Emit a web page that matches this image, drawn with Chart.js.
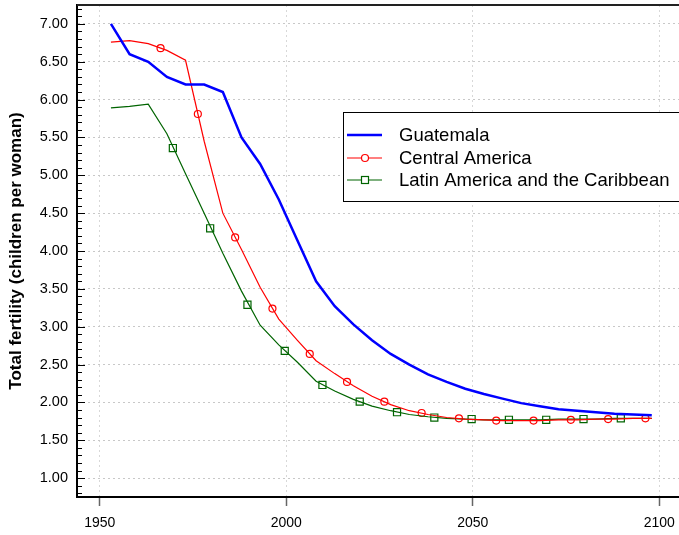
<!DOCTYPE html>
<html>
<head>
<meta charset="utf-8">
<script src="https://cdn.jsdelivr.net/npm/chart.js@4.4.1/dist/chart.umd.min.js"></script>
<style>
  html, body { margin: 0; padding: 0; background: #fff; overflow: hidden; }
  canvas { display: block; }
</style>
</head>
<body>
<canvas id="chart" width="679" height="535"></canvas>
<script>
// Period midpoints (1950-55 ... 2095-2100)
const years = [1953, 1958, 1963, 1968, 1973, 1978, 1983, 1988, 1993, 1998,
  2003, 2008, 2013, 2018, 2023, 2028, 2033, 2038, 2043, 2048,
  2053, 2058, 2063, 2068, 2073, 2078, 2083, 2088, 2093, 2098];

const guatemala = [7.00, 6.60, 6.50, 6.30, 6.20, 6.20, 6.10, 5.50, 5.15, 4.68,
  4.14, 3.60, 3.27, 3.03, 2.82, 2.64, 2.50, 2.37, 2.27, 2.18,
  2.11, 2.05, 1.99, 1.95, 1.91, 1.89, 1.87, 1.85, 1.84, 1.83];

const centralAmerica = [6.76, 6.78, 6.74, 6.65, 6.52, 5.45, 4.50, 4.02, 3.52, 3.10,
  2.82, 2.55, 2.38, 2.22, 2.08, 1.97, 1.89, 1.84, 1.80, 1.78,
  1.77, 1.76, 1.76, 1.76, 1.77, 1.77, 1.78, 1.78, 1.79, 1.79];

const latinAmerica = [5.89, 5.91, 5.94, 5.55, 5.02, 4.50, 3.97, 3.47, 3.02, 2.76,
  2.53, 2.28, 2.15, 2.04, 1.95, 1.89, 1.84, 1.81, 1.79, 1.78,
  1.77, 1.77, 1.77, 1.77, 1.78, 1.78, 1.78, 1.79, 1.79, 1.79];

// marker symbols sit along the lines, not on the data points
const centralMarkYears = [1966.3, 1976.3, 1986.3, 1996.3, 2006.3, 2016.3, 2026.3,
  2036.3, 2046.3, 2056.3, 2066.3, 2076.3, 2086.3, 2096.3];
const centralMarkVals = [6.68, 5.81, 4.18, 3.24, 2.64, 2.27, 2.01,
  1.86, 1.79, 1.76, 1.76, 1.77, 1.78, 1.79];

const latinMarkYears = [1969.6, 1979.6, 1989.6, 1999.6, 2009.7, 2019.7, 2029.7,
  2039.7, 2049.7, 2059.7, 2069.7, 2079.7, 2089.7];
const latinMarkVals = [5.36, 4.30, 3.29, 2.68, 2.23, 2.01, 1.87,
  1.80, 1.78, 1.77, 1.77, 1.78, 1.79];

const xTicks = [1950, 2000, 2050, 2100];
const yTicks = [1.0, 1.5, 2.0, 2.5, 3.0, 3.5, 4.0, 4.5, 5.0, 5.5, 6.0, 6.5, 7.0];

const seriesNames = ["Guatemala", "Central America", "Latin America and the Caribbean"];
const yTitle = "Total fertility (children per woman)";

const BLUE = "#0000ff";
const RED = "#ff0000";
const GREEN = "#006400";
const FONT = "'Liberation Sans', Arial, sans-serif";

const toPoints = (xs, ys) => xs.map((x, i) => ({ x: x, y: ys[i] }));

// Frame, inward y ticks and the boxed legend
const decorations = {
  id: "decorations",
  afterDraw(chart) {
    const ctx = chart.ctx;
    const area = chart.chartArea;
    const yScale = chart.scales.y;

    ctx.save();
    // top frame line
    ctx.strokeStyle = "#222";
    ctx.lineWidth = 2;
    ctx.beginPath();
    ctx.moveTo(area.left, area.top);
    ctx.lineTo(chart.width, area.top);
    ctx.stroke();

    // minor and major ticks pointing into the plot
    ctx.strokeStyle = "#000";
    ctx.lineWidth = 1;
    for (let k = 8; k <= 72; k++) {
      const v = k / 10;
      const py = Math.round(yScale.getPixelForValue(v)) + 0.5;
      const len = k % 5 === 0 ? 8 : 5;
      ctx.beginPath();
      ctx.moveTo(area.left, py);
      ctx.lineTo(area.left + len, py);
      ctx.stroke();
    }

    // legend
    const bx = 343, by = 112, bw = 400, bh = 89;
    ctx.fillStyle = "#fff";
    ctx.fillRect(bx, by, bw, bh);
    ctx.strokeStyle = "#000";
    ctx.lineWidth = 1;
    ctx.strokeRect(bx + 0.5, by + 0.5, bw, bh);

    const rows = [135, 158, 180];
    const colors = [BLUE, RED, GREEN];
    const widths = [2.5, 1.2, 1.2];
    ctx.font = "18.5px " + FONT;
    ctx.textBaseline = "middle";
    rows.forEach((ry, i) => {
      ctx.strokeStyle = colors[i];
      ctx.lineWidth = widths[i];
      ctx.beginPath();
      ctx.moveTo(347, ry);
      ctx.lineTo(382, ry);
      ctx.stroke();
      if (i === 1) {
        ctx.lineWidth = 1.2;
        ctx.beginPath();
        ctx.arc(365, ry, 3.5, 0, Math.PI * 2);
        ctx.fillStyle = "#fff";
        ctx.fill();
        ctx.stroke();
      }
      if (i === 2) {
        ctx.lineWidth = 1.2;
        ctx.fillStyle = "#fff";
        ctx.fillRect(361.5, ry - 3.5, 7, 7);
        ctx.strokeRect(361.5, ry - 3.5, 7, 7);
      }
      ctx.fillStyle = "#000";
      ctx.fillText(seriesNames[i], 399, ry + 1);
    });
    ctx.restore();
  }
};

const chart = new Chart(document.querySelector("#chart"), {
  type: "line",
  data: {
    datasets: [
      {
        label: seriesNames[0],
        data: toPoints(years, guatemala),
        borderColor: BLUE,
        borderWidth: 2.5,
        pointRadius: 0,
        tension: 0
      },
      {
        label: seriesNames[1],
        data: toPoints(years, centralAmerica),
        borderColor: RED,
        borderWidth: 1.2,
        pointRadius: 0,
        tension: 0
      },
      {
        label: seriesNames[2],
        data: toPoints(years, latinAmerica),
        borderColor: GREEN,
        borderWidth: 1.2,
        pointRadius: 0,
        tension: 0
      },
      {
        label: seriesNames[1] + " markers",
        data: toPoints(centralMarkYears, centralMarkVals),
        showLine: false,
        pointStyle: "circle",
        pointRadius: 3.5,
        pointBorderWidth: 1.2,
        pointBorderColor: RED,
        pointBackgroundColor: "rgba(255,255,255,0)"
      },
      {
        label: seriesNames[2] + " markers",
        data: toPoints(latinMarkYears, latinMarkVals),
        showLine: false,
        pointStyle: "rect",
        pointRadius: 5,
        pointBorderWidth: 1.2,
        pointBorderColor: GREEN,
        pointBackgroundColor: "rgba(255,255,255,0)"
      }
    ]
  },
  options: {
    responsive: false,
    animation: false,
    devicePixelRatio: 1,
    layout: {
      autoPadding: false,
      padding: { top: 5, right: 0, left: 0, bottom: 0 }
    },
    plugins: {
      legend: { display: false },
      tooltip: { enabled: false },
      title: { display: false }
    },
    scales: {
      x: {
        type: "linear",
        min: 1943.9,
        max: 2105.3,
        afterBuildTicks: (scale) => { scale.ticks = xTicks.map((v) => ({ value: v })); },
        afterFit: (scale) => {
          scale.height = 38;
          scale.paddingLeft = 0;
          scale.paddingRight = 0;
        },
        grid: {
          color: "#d8d8d8",
          lineWidth: 1,
          drawTicks: true,
          tickLength: 9,
          tickColor: "#666",
          tickWidth: 1.5
        },
        border: { display: true, color: "#000", width: 2, dash: [2, 3] },
        ticks: {
          color: "#000",
          font: { family: FONT, size: 14 },
          padding: 9,
          maxRotation: 0,
          autoSkip: false,
          callback: (v) => String(v)
        }
      },
      y: {
        type: "linear",
        min: 0.75,
        max: 7.25,
        afterBuildTicks: (scale) => { scale.ticks = yTicks.map((v) => ({ value: v })); },
        afterFit: (scale) => {
          scale.width = 77;
          scale.paddingTop = 0;
          scale.paddingBottom = 0;
        },
        grid: {
          color: "#c8c8c8",
          lineWidth: 1,
          drawTicks: false
        },
        border: { display: true, color: "#000", width: 2, dash: [2, 3] },
        ticks: {
          color: "#000",
          font: { family: FONT, size: 14.5 },
          padding: 9,
          autoSkip: false,
          callback: (v) => Number(v).toFixed(2)
        },
        title: {
          display: true,
          text: yTitle,
          color: "#000",
          font: { family: FONT, size: 17, weight: "bold" },
          padding: { top: 6, bottom: 0 }
        }
      }
    }
  },
  plugins: [decorations]
});
</script>
</body>
</html>
